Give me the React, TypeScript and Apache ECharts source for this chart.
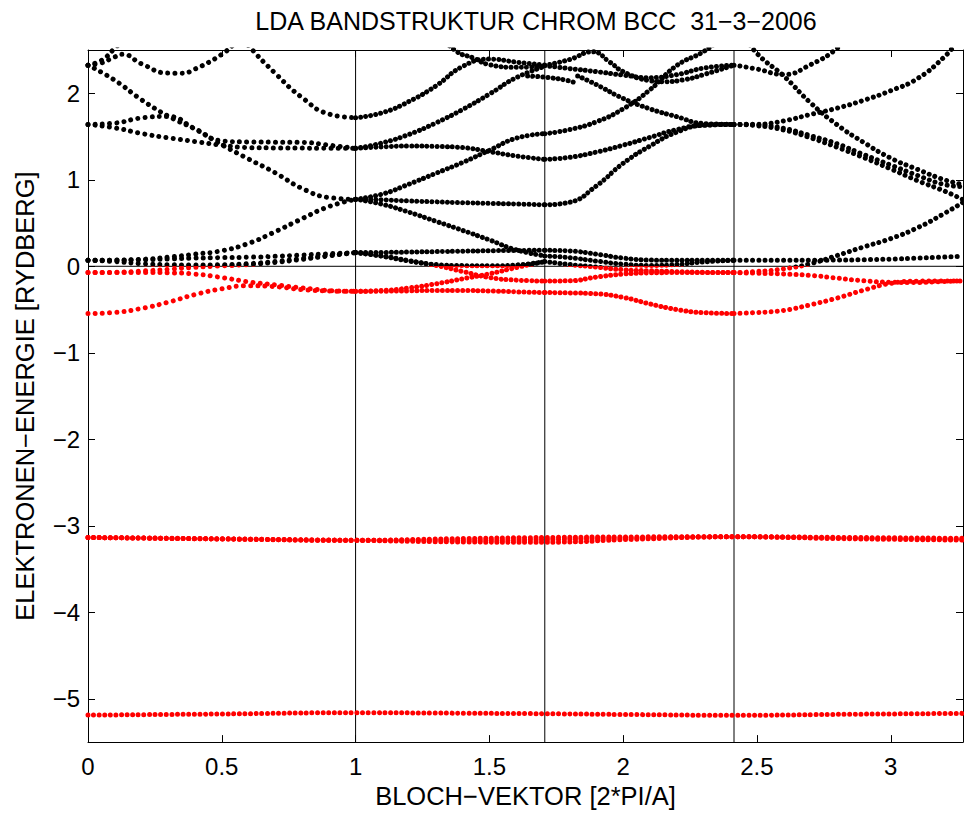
import React, { useEffect, useRef } from "react";
import * as echarts from "echarts";

const TITLE = "LDA BANDSTRUKTUR CHROM BCC  31\u22123\u22122006";
const X_NAME = "BLOCH\u2212VEKTOR [2*PI/A]";
const Y_NAME = "ELEKTRONEN\u2212ENERGIE [RYDBERG]";
const xTicks = [0, 0.5, 1, 1.5, 2, 2.5, 3];
const yTicks = [-5, -4, -3, -2, -1, 0, 1, 2];
const symPoints = [1, 1.7071, 2.4142];
const kMax = 3.27;
const eMin = -5.5;
const eMax = 2.5;

// k grids per path segment (Gamma-H, H-N, N-Gamma, Gamma-P)
const k1 = [0, 0.1, 0.2, 0.3, 0.4, 0.5, 0.6, 0.7, 0.8, 0.9, 1.0];
const k2 = [1.0, 1.1, 1.2, 1.3, 1.4, 1.5, 1.6, 1.7071];
const k3 = [1.7071, 1.8, 1.9, 2.0, 2.1, 2.2, 2.3, 2.4142];
const k4 = [2.4142, 2.5, 2.6, 2.7, 2.8, 2.9, 3.0, 3.1, 3.2, 3.27];
const kSemi = [0, 0.5, 1.0, 1.35, 1.7071, 2.05, 2.4142, 2.85, 3.27];

// Gamma - H
const g1_s = [-0.546, -0.533, -0.487, -0.415, -0.327, -0.26, -0.225, -0.235, -0.27, -0.285, -0.29];
const g1_d1 = [-0.073, -0.073, -0.072, -0.075, -0.09, -0.13, -0.18, -0.215, -0.25, -0.28, -0.29];
const g1_d2 = [-0.073, -0.07, -0.055, -0.035, -0.012, 0.005, 0.02, 0.045, 0.08, 0.12, 0.158];
const g1_d3 = [0.069, 0.07, 0.075, 0.085, 0.095, 0.1, 0.105, 0.115, 0.13, 0.145, 0.158];
const g1_d4 = [0.069, 0.071, 0.08, 0.105, 0.14, 0.18, 0.265, 0.4, 0.55, 0.69, 0.774];
const g1_d5 = [0.069, 0.055, 0.03, 0.018, 0.015, 0.017, 0.03, 0.055, 0.09, 0.125, 0.158];
const g1_D = [2.325, 2.15, 1.925, 1.735, 1.585, 1.405, 1.24, 1.08, 0.9, 0.795, 0.774];
const g1_U = [1.64, 1.655, 1.715, 1.732, 1.59, 1.45, 1.437, 1.435, 1.432, 1.4, 1.363];
const g1_L = [1.64, 1.6, 1.535, 1.485, 1.442, 1.4, 1.372, 1.368, 1.366, 1.364, 1.363];
const g1_Ta = [[0, 2.325], [0.05, 2.38], [0.1, 2.52], [0.15, 2.68]];
const g1_Tb = [[0, 2.325], [0.05, 2.35], [0.1, 2.42], [0.13, 2.45], [0.2, 2.34], [0.3, 2.233], [0.35, 2.232], [0.4, 2.28], [0.5, 2.45], [0.55, 2.58], [0.6, 2.72]];
const g1_Tc = [[0.55, 2.75], [0.6, 2.55], [0.7, 2.23], [0.8, 1.95], [0.9, 1.76], [1.0, 1.717]];

// H - N
const g2_a = [1.717, 1.775, 1.905, 2.085, 2.31, 2.395, 2.36, 2.325];
const g2_b = [1.363, 1.426, 1.525, 1.657, 1.812, 1.99, 2.18, 2.31];
const g2_c = [1.363, 1.38, 1.39, 1.385, 1.372, 1.325, 1.275, 1.236];
const g2_d = [0.774, 0.835, 0.95, 1.075, 1.2, 1.34, 1.48, 1.532];
const g2_e = [0.774, 0.768, 0.755, 0.745, 0.735, 0.727, 0.72, 0.71];
const g2_f = [0.774, 0.716, 0.625, 0.52, 0.415, 0.305, 0.19, 0.12];
const g2_g = [0.158, 0.16, 0.165, 0.17, 0.175, 0.18, 0.183, 0.185];
const g2_h = [0.158, 0.12, 0.065, 0.01, -0.06, -0.13, -0.16, -0.17];
const g2_i = [0.158, 0.115, 0.06, 0.02, 0.008, 0.005, 0.015, 0.054];
const g2_j = [-0.29, -0.28, -0.25, -0.203, -0.145, -0.087, -0.015, 0.054];
const g2_k = [-0.29, -0.288, -0.284, -0.28, -0.28, -0.285, -0.295, -0.304];
const g2_top = [[1.3, 2.72], [1.376, 2.486], [1.438, 2.41], [1.5, 2.33], [1.6, 2.3], [1.7071, 2.31]];
const g2_short = [[1.643, 2.2], [1.7071, 2.185], [1.78, 2.155], [1.823, 2.12]];

// N - Gamma
const g3_a = [[1.7071, 1.532], [1.8, 1.58], [1.9, 1.67], [2.0, 1.82], [2.1, 2.04], [2.2, 2.32], [2.3, 2.48], [2.36, 2.62]];
const g3_b = [1.236, 1.26, 1.32, 1.4, 1.49, 1.58, 1.63, 1.64];
const g3_c = [0.71, 0.74, 0.93, 1.19, 1.39, 1.55, 1.63, 1.64];
const g3_d = [[1.83, 2.2], [1.9, 2.1], [2.0, 1.94], [2.1, 1.82], [2.2, 1.73], [2.3, 1.65], [2.4142, 1.64]];
const g3_e = [2.32, 2.285, 2.25, 2.21, 2.18, 2.215, 2.29, 2.325];
const g3_f = [[1.7071, 2.32], [1.8, 2.39], [1.886, 2.479], [1.95, 2.36], [2.0, 2.25], [2.1, 2.145], [2.15, 2.133], [2.234, 2.16], [2.3, 2.215], [2.4142, 2.325]];
const g3_g = [0.185, 0.177, 0.14, 0.095, 0.072, 0.069, 0.069, 0.069];
const g3_h = [0.119, 0.1, 0.06, 0.025, 0.01, 0.02, 0.05, 0.069];
const g3_i = [0.054, 0.02, -0.01, -0.04, -0.052, -0.062, -0.07, -0.073];
const g3_j = [-0.17, -0.168, -0.125, -0.09, -0.076, -0.073, -0.073, -0.073];
const g3_s = [-0.304, -0.308, -0.318, -0.36, -0.435, -0.5, -0.536, -0.546];

// Gamma - P
const g4_a = [[2.4142, 2.325], [2.5, 2.28], [2.6, 2.217], [2.7, 2.33], [2.8, 2.52], [2.85, 2.7]];
const g4_b = [[2.45, 2.68], [2.5, 2.46], [2.6, 2.2], [2.7, 1.89], [2.8, 1.635], [2.9, 1.43], [3.0, 1.25], [3.1, 1.12], [3.2, 1.0], [3.27, 0.945]];
const g4_c = [[2.4142, 1.64], [2.5, 1.642], [2.6, 1.68], [2.7, 1.755], [2.8, 1.828], [2.9, 1.92], [3.0, 2.03], [3.1, 2.17], [3.2, 2.42], [3.25, 2.6]];
const g4_d = [1.64, 1.635, 1.595, 1.51, 1.415, 1.29, 1.17, 1.05, 0.945, 0.92];
const g4_e = [1.64, 1.625, 1.575, 1.485, 1.375, 1.255, 1.125, 0.99, 0.87, 0.77];
const g4_f = [-0.073, -0.06, -0.03, 0.03, 0.125, 0.225, 0.32, 0.445, 0.61, 0.74];
const g4_g = [0.069, 0.069, 0.069, 0.07, 0.072, 0.076, 0.083, 0.095, 0.107, 0.115];
const g4_r = [-0.073, -0.08, -0.09, -0.105, -0.137, -0.168, -0.185, -0.187, -0.176, -0.169];
const g4_s = [-0.546, -0.535, -0.51, -0.445, -0.367, -0.275, -0.198, -0.172, -0.169, -0.169];

// semicore states (3p, 3s)
const semi_p1 = [-3.135, -3.15, -3.168, -3.15, -3.135, -3.128, -3.127, -3.135, -3.145];
const semi_p2 = [-3.135, -3.152, -3.168, -3.168, -3.16, -3.14, -3.127, -3.142, -3.156];
const semi_p3 = [-3.135, -3.152, -3.168, -3.185, -3.19, -3.155, -3.127, -3.15, -3.165];
const semi_s = [-5.188, -5.175, -5.16, -5.165, -5.172, -5.182, -5.19, -5.178, -5.168];

const FONT = "'Liberation Sans', Arial, Helvetica, sans-serif";
const RED = "#ff0000";
const BLACK = "#000000";

function zipK(ks: number[], es: number[]): number[][] {
  return ks.map((k, i) => [k, es[i]]);
}

function buildOption() {
  const bands: { data: number[][]; gap: number }[] = [];
  const seg1 = [g1_s, g1_d1, g1_d2, g1_d3, g1_d4, g1_d5, g1_D, g1_U, g1_L];
  seg1.forEach((b) => bands.push({ data: zipK(k1, b), gap: 7.2 }));
  [g1_Ta, g1_Tb, g1_Tc].forEach((b) => bands.push({ data: b, gap: 7.2 }));
  const seg2 = [g2_a, g2_b, g2_c, g2_d, g2_e, g2_f, g2_g, g2_h, g2_i, g2_j, g2_k];
  seg2.forEach((b) => bands.push({ data: zipK(k2, b), gap: 5.1 }));
  [g2_top, g2_short].forEach((b) => bands.push({ data: b, gap: 5.1 }));
  const seg3 = [g3_b, g3_c, g3_e, g3_g, g3_h, g3_i, g3_j, g3_s];
  seg3.forEach((b) => bands.push({ data: zipK(k3, b), gap: 5.1 }));
  [g3_a, g3_d, g3_f].forEach((b) => bands.push({ data: b, gap: 5.1 }));
  const seg4 = [g4_d, g4_e, g4_f, g4_g, g4_r, g4_s];
  seg4.forEach((b) => bands.push({ data: zipK(k4, b), gap: 6.2 }));
  [g4_a, g4_b, g4_c].forEach((b) => bands.push({ data: b, gap: 6.2 }));
  [semi_p1, semi_p2, semi_p3, semi_s].forEach((b) => bands.push({ data: zipK(kSemi, b), gap: 5.6 }));

  const series: any[] = bands.map((b) => ({
    type: "line",
    data: b.data,
    smooth: 0.5,
    symbol: "none",
    showSymbol: false,
    clip: true,
    silent: true,
    z: 3,
    lineStyle: { width: 5, type: [0.001, b.gap], cap: "round" },
  }));
  const bandIdx = series.map((_, i) => i);

  symPoints.forEach((k) => {
    series.push({
      type: "line",
      data: [[k, eMin], [k, eMax]],
      symbol: "none",
      silent: true,
      z: 2,
      lineStyle: { color: BLACK, width: 1, type: "solid" },
    });
  });
  series.push({
    type: "line",
    data: [[0, 0], [kMax, 0]],
    symbol: "none",
    silent: true,
    z: 2,
    lineStyle: { color: BLACK, width: 1, type: "solid" },
  });

  const minus = (v: number) => String(v).replace("-", "\u2212");
  const labelStyle = { fontSize: 24, fontFamily: FONT, color: BLACK };
  const nameStyle = { fontSize: 25.5, fontFamily: FONT, color: BLACK };
  const lineS = { show: true, onZero: false, lineStyle: { color: BLACK, width: 1 } };

  return {
    animation: false,
    backgroundColor: "#ffffff",
    graphic: [
      {
        type: "text",
        x: 536,
        y: 21,
        silent: true,
        style: {
          text: TITLE,
          fontSize: 25,
          fontFamily: FONT,
          fill: BLACK,
          align: "center",
          verticalAlign: "middle",
        },
      },
    ],
    grid: { left: 88, top: 50, width: 875, height: 694, containLabel: false },
    visualMap: {
      type: "piecewise",
      show: false,
      dimension: 1,
      seriesIndex: bandIdx,
      pieces: [
        { gte: -20, lt: 0, color: RED },
        { gte: 0, lte: 20, color: BLACK },
      ],
      outOfRange: { color: BLACK },
    },
    xAxis: [
      {
        type: "value",
        min: 0,
        max: kMax,
        position: "bottom",
        axisLine: lineS,
        axisTick: { show: true, inside: true, length: 7, customValues: xTicks, lineStyle: { color: BLACK } },
        axisLabel: { ...labelStyle, margin: 12, customValues: xTicks, formatter: minus },
        splitLine: { show: false },
        name: X_NAME,
        nameLocation: "middle",
        nameGap: 40,
        nameTextStyle: nameStyle,
      },
      {
        type: "value",
        min: 0,
        max: kMax,
        position: "top",
        axisLine: lineS,
        axisTick: { show: true, inside: true, length: 7, customValues: xTicks, lineStyle: { color: BLACK } },
        axisLabel: { show: false },
        splitLine: { show: false },
      },
    ],
    yAxis: [
      {
        type: "value",
        min: eMin,
        max: eMax,
        position: "left",
        axisLine: lineS,
        axisTick: { show: true, inside: true, length: 7, customValues: yTicks, lineStyle: { color: BLACK } },
        axisLabel: { ...labelStyle, margin: 8, customValues: yTicks, formatter: minus },
        splitLine: { show: false },
        name: Y_NAME,
        nameLocation: "middle",
        nameGap: 50,
        nameRotate: 90,
        nameTextStyle: nameStyle,
      },
      {
        type: "value",
        min: eMin,
        max: eMax,
        position: "right",
        axisLine: lineS,
        axisTick: { show: true, inside: true, length: 7, customValues: yTicks, lineStyle: { color: BLACK } },
        axisLabel: { show: false },
        splitLine: { show: false },
      },
    ],
    series,
  };
}

export default function App() {
  const ref = useRef<HTMLDivElement>(null);
  useEffect(() => {
    if (!ref.current) return;
    const chart = echarts.init(ref.current, undefined, { renderer: "svg" });
    chart.setOption(buildOption() as any);
    return () => chart.dispose();
  }, []);
  return (
    <div
      ref={ref}
      style={{ position: "fixed", left: 0, top: 0, width: 964, height: 814, background: "#fff" }}
    />
  );
}
